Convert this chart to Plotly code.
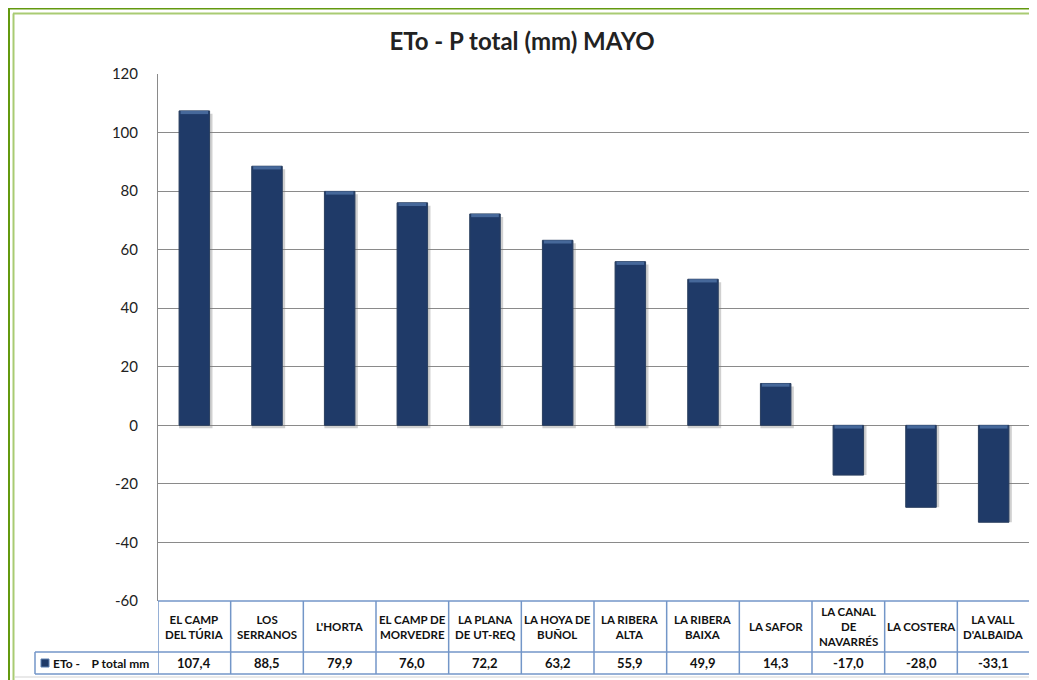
import plotly.graph_objects as go

categories = ["EL CAMP<br>DEL TÚRIA", "LOS<br>SERRANOS", "L'HORTA", "EL CAMP DE<br>MORVEDRE",
              "LA PLANA<br>DE UT-REQ", "LA HOYA DE<br>BUÑOL", "LA RIBERA<br>ALTA", "LA RIBERA<br>BAIXA",
              "LA SAFOR", "LA CANAL<br>DE<br>NAVARRÉS", "LA COSTERA", "LA VALL<br>D'ALBAIDA"]
values = [107.4, 88.5, 79.9, 76.0, 72.2, 63.2, 55.9, 49.9, 14.3, -17.0, -28.0, -33.1]
series_name = "ETo -\u00a0\u00a0\u00a0 P total mm"
y_ticks = [120, 100, 80, 60, 40, 20, 0, -20, -40, -60]

OFF = 8  # page body margin
W, H = 1037 - OFF, 680 - OFF
# plot-area edges in page pixels
L, R, T, B = 158, 1030, 74, 601
FONT = "Lato, 'Open Sans', sans-serif"
NAVY = "#1F3A68"
TBL = "#7396C8"
BEVEL = 1.1  # thickness of the lighter top bevel, in axis units


def px_x(p):
    return (p - L) / (R - L)


def px_y(p):
    return (B - p) / (B - T)


idx = list(range(len(categories)))

fig = go.Figure()
# soft shadow
fig.add_trace(go.Bar(
    x=idx, y=values, width=0.46, offset=-0.21,
    marker=dict(color="rgba(120,120,120,0.35)", line=dict(width=0)),
    base=[-1.0 if v > 0 else 0 for v in values],
    showlegend=False, hoverinfo="skip",
))
fig.add_trace(go.Bar(
    x=idx, y=values, name=series_name, width=0.42,
    marker=dict(color=NAVY, line=dict(color="#2A3F5F", width=1)),
    showlegend=False,
))
# lighter bevel at the top edge of each bar
fig.add_trace(go.Bar(
    x=idx, y=[BEVEL] * len(values), base=[max(v, 0) - BEVEL for v in values], width=0.38,
    marker=dict(color="#46689A", line=dict(width=0)),
    showlegend=False, hoverinfo="skip",
))

shapes = []
annotations = []

# table lines
hdr_bot = px_y(652)
row_bot = px_y(674)
lbl_left = px_x(35)
shapes.append(dict(type="line", xref="paper", yref="paper", x0=0, x1=1, y0=0, y1=0,
                   line=dict(color=TBL, width=1.5)))
for yy in (hdr_bot, row_bot):
    shapes.append(dict(type="line", xref="paper", yref="paper", x0=lbl_left, x1=1, y0=yy, y1=yy,
                       line=dict(color=TBL, width=1.5)))
shapes.append(dict(type="line", xref="paper", yref="paper", x0=lbl_left, x1=lbl_left, y0=hdr_bot, y1=row_bot,
                   line=dict(color=TBL, width=1.5)))
for k in range(len(categories) + 1):
    shapes.append(dict(type="line", xref="x", yref="paper", x0=k - 0.5, x1=k - 0.5, y0=0, y1=row_bot,
                       line=dict(color=TBL, width=1.5)))

# legend key
shapes.append(dict(type="rect", xref="paper", yref="paper", x0=px_x(41), x1=px_x(49), y0=px_y(659), y1=px_y(667),
                   fillcolor=NAVY, line=dict(color="#5A7FB0", width=1)))
annotations.append(dict(xref="paper", yref="paper", x=px_x(51), y=(hdr_bot + row_bot) / 2, text=f"<b>{series_name}</b>",
                        showarrow=False, xanchor="left", yanchor="middle", font=dict(size=12, color="#111", family=FONT)))

for i, (c, v) in enumerate(zip(categories, values)):
    annotations.append(dict(xref="x", yref="paper", x=i, y=hdr_bot / 2, text=f"<b>{c}</b>", showarrow=False,
                            xanchor="center", yanchor="middle", font=dict(size=11.5, color="#111", family=FONT)))
    annotations.append(dict(xref="x", yref="paper", x=i, y=(hdr_bot + row_bot) / 2,
                            text="<b>" + f"{v:.1f}".replace(".", ",") + "</b>", showarrow=False,
                            xanchor="center", yanchor="middle", font=dict(size=13, color="#111", family=FONT)))

# green frame
GREEN = "#63990F"
shapes.append(dict(type="line", xref="paper", yref="paper", x0=px_x(8.5), x1=px_x(8.5), y0=px_y(7), y1=px_y(690),
                   line=dict(color=GREEN, width=3)))
shapes.append(dict(type="line", xref="paper", yref="paper", x0=px_x(7), x1=px_x(1037), y0=px_y(8), y1=px_y(8),
                   line=dict(color=GREEN, width=3)))
shapes.append(dict(type="line", xref="paper", yref="paper", x0=px_x(13.5), x1=px_x(13.5), y0=px_y(13.5), y1=px_y(690),
                   line=dict(color="#A9CB73", width=2)))
shapes.append(dict(type="line", xref="paper", yref="paper", x0=px_x(13), x1=px_x(1037), y0=px_y(13.5), y1=px_y(13.5),
                   line=dict(color="#A9CB73", width=2)))
shapes.append(dict(type="line", xref="paper", yref="paper", x0=px_x(15), x1=px_x(1037), y0=px_y(677), y1=px_y(677),
                   line=dict(color="#E2E2E2", width=1.5)))

fig.update_layout(
    width=W, height=H, barmode="overlay",
    margin=dict(l=L - OFF, r=(1037 - OFF) - (R - OFF), t=T - OFF, b=(680 - OFF) - (B - OFF), pad=0),
    paper_bgcolor="white", plot_bgcolor="white",
    title=dict(text="<b>ETo - P total (mm) MAYO</b>", xref="container", x=(522 - OFF) / W, xanchor="center",
               yref="container", y=1 - (42 - OFF) / H, yanchor="middle",
               font=dict(size=24, color="#222", family=FONT)),
    xaxis=dict(range=[-0.5, len(categories) - 0.5], showticklabels=False, showgrid=False, zeroline=False,
               showline=False, fixedrange=True),
    yaxis=dict(range=[-60, 120], tickvals=y_ticks, ticktext=[str(t) for t in y_ticks],
               showgrid=True, gridcolor="#8A8A8A", gridwidth=1,
               zeroline=True, zerolinecolor="#8A8A8A", zerolinewidth=1,
               showline=True, linecolor="#8A8A8A", linewidth=1, ticks="", ticklabelstandoff=16,
               tickfont=dict(size=15, color="#222", family=FONT)),
    shapes=shapes, annotations=annotations, font=dict(family=FONT),
)

fig.write_html("out.html")
